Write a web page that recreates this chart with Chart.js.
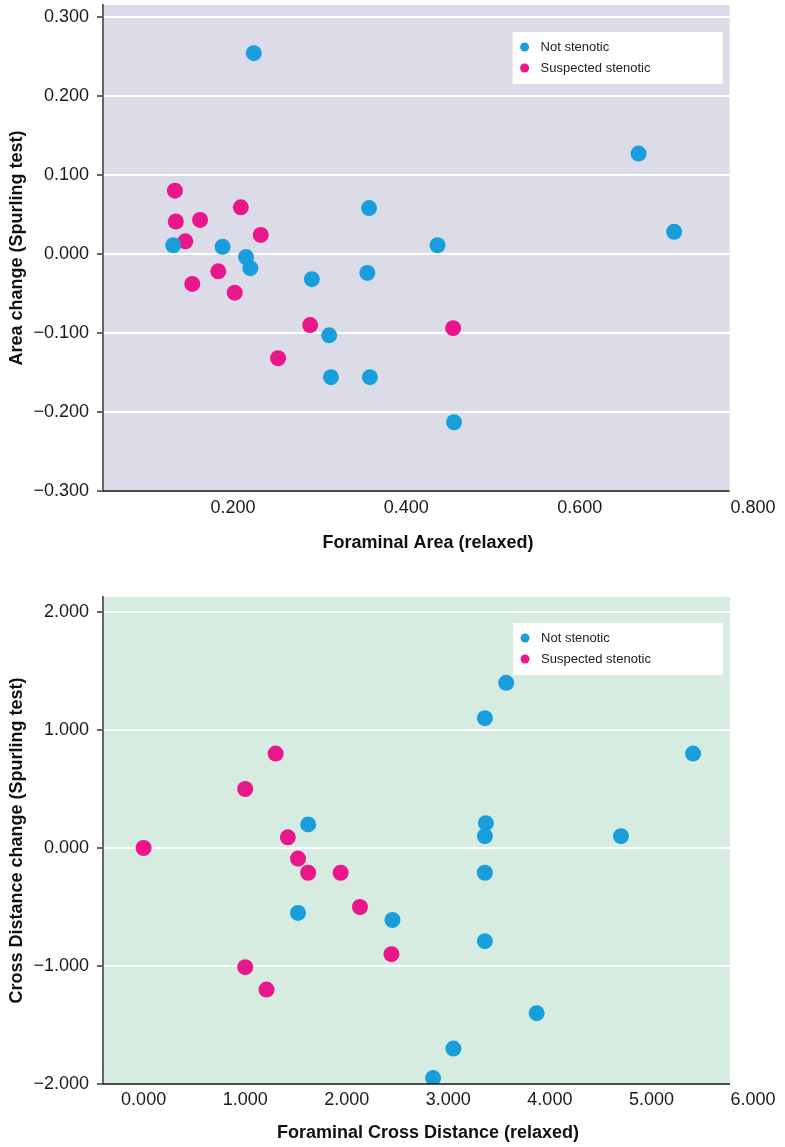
<!DOCTYPE html>
<html>
<head>
<meta charset="utf-8">
<script src="https://cdn.jsdelivr.net/npm/chart.js@4.4.1/dist/chart.umd.min.js"></script>
<style>
  body { margin: 0; background: #fff; }
  .wrap { position: absolute; left: 0; width: 785px; }
  canvas { display: block; }
</style>
</head>
<body>
<div class="wrap" style="top:0;height:565px"><canvas id="areaChart" width="785" height="565"></canvas></div>
<div class="wrap" style="top:565px;height:582px"><canvas id="crossChart" width="785" height="582"></canvas></div>
<script>
// ---- chart 1: foraminal area ----
var areaNotX = [0.224, 0.668, 0.709, 0.357, 0.436, 0.131, 0.188, 0.215, 0.220, 0.291, 0.355, 0.311, 0.313, 0.358, 0.455];
var areaNotY = [0.254, 0.127, 0.028, 0.058, 0.011, 0.011, 0.009, -0.004, -0.018, -0.032, -0.024, -0.103, -0.156, -0.156, -0.213];
var areaSusX = [0.133, 0.134, 0.162, 0.145, 0.209, 0.232, 0.183, 0.153, 0.202, 0.289, 0.252, 0.454];
var areaSusY = [0.080, 0.041, 0.043, 0.016, 0.059, 0.024, -0.022, -0.038, -0.049, -0.090, -0.132, -0.094];
var areaXTicks = [0.2, 0.4, 0.6, 0.8];
var areaYTicks = [-0.3, -0.2, -0.1, 0, 0.1, 0.2, 0.3];

// ---- chart 2: foraminal cross distance ----
var crossNotX = [3.57, 3.36, 5.41, 1.62, 3.37, 3.36, 4.70, 3.36, 1.52, 2.45, 3.36, 3.87, 3.05, 2.85];
var crossNotY = [1.40, 1.10, 0.80, 0.20, 0.21, 0.10, 0.10, -0.21, -0.55, -0.61, -0.79, -1.40, -1.70, -1.95];
var crossSusX = [1.30, 1.00, 1.42, 0.00, 1.52, 1.62, 1.94, 2.13, 2.44, 1.00, 1.21];
var crossSusY = [0.80, 0.50, 0.09, 0.00, -0.09, -0.21, -0.21, -0.50, -0.90, -1.01, -1.20];
var crossXTicks = [0, 1, 2, 3, 4, 5, 6];
var crossYTicks = [-2, -1, 0, 1, 2];

var seriesNames = ['Not stenotic', 'Suspected stenotic'];
var BLUE = '#189fdb';
var PINK = '#ea168b';
var FONT = "'Liberation Sans', Arial, sans-serif";

function fmt(v) {
    var s = Math.abs(v).toFixed(3);
    return v < -1e-9 ? '\u2212' + s : s;
}

function pts(xs, ys) {
    return xs.map(function (x, i) { return { x: x, y: ys[i] }; });
}

// plot background, clipped x axis line and in-plot legend
var framePlugin = {
    id: 'frame',
    beforeDraw: function (chart, args, opts) {
        var a = chart.chartArea, ctx = chart.ctx;
        var right = chart.scales.x.getPixelForValue(opts.xEnd);
        ctx.save();
        ctx.fillStyle = opts.bg;
        ctx.fillRect(a.left, a.top, right - a.left, a.bottom - a.top);
        ctx.restore();
    },
    afterDraw: function (chart, args, opts) {
        var a = chart.chartArea, ctx = chart.ctx;
        var right = chart.scales.x.getPixelForValue(opts.xEnd);
        ctx.save();
        ctx.strokeStyle = '#111';
        ctx.lineWidth = 1.5;
        ctx.beginPath();
        ctx.moveTo(a.left, a.bottom);
        ctx.lineTo(right, a.bottom);
        ctx.stroke();

        // legend box
        var bx = right - 217, by = a.top + opts.legendTop, bw = 210, bh = 52;
        ctx.fillStyle = '#ffffff';
        ctx.fillRect(bx, by, bw, bh);
        ctx.font = '13px ' + FONT;
        ctx.textBaseline = 'middle';
        chart.data.datasets.forEach(function (ds, i) {
            var cy = by + 15 + i * 21;
            ctx.fillStyle = ds.backgroundColor;
            ctx.beginPath();
            ctx.arc(bx + 12, cy, 4.5, 0, Math.PI * 2);
            ctx.fill();
            ctx.fillStyle = '#222';
            ctx.fillText(ds.label, bx + 28, cy);
        });
        ctx.restore();
    }
};

function makeChart(id, cfg) {
    var ctx = document.getElementById(id).getContext('2d');
    return new Chart(ctx, {
        type: 'scatter',
        data: {
            datasets: [{
                label: seriesNames[0],
                data: cfg.notPts,
                backgroundColor: BLUE,
                borderWidth: 0,
                pointRadius: 8,
                pointHoverRadius: 8
            }, {
                label: seriesNames[1],
                data: cfg.susPts,
                backgroundColor: PINK,
                borderWidth: 0,
                pointRadius: 8,
                pointHoverRadius: 8
            }]
        },
        options: {
            responsive: false,
            animation: false,
            layout: {
                autoPadding: false,
                padding: { left: 0, right: 32, top: cfg.padTop, bottom: 0 }
            },
            plugins: {
                legend: { display: false },
                tooltip: { enabled: false },
                frame: { bg: cfg.bg, xEnd: cfg.xEnd, legendTop: cfg.legendTop }
            },
            scales: {
                x: {
                    type: 'linear',
                    min: cfg.xMin,
                    max: cfg.xMax,
                    afterBuildTicks: function (scale) {
                        scale.ticks = cfg.xTicks.map(function (v) { return { value: v }; });
                    },
                    afterFit: function (scale) { scale.height = cfg.xAxisH; },
                    grid: { display: false },
                    border: { display: false },
                    ticks: {
                        padding: cfg.xTickPad,
                        color: '#1a1a1a',
                        font: { family: FONT, size: 18 },
                        maxRotation: 0,
                        callback: function (v) { return fmt(v); }
                    },
                    title: {
                        display: true,
                        text: cfg.xTitle,
                        color: '#111',
                        font: { family: FONT, size: 18, weight: 'bold' },
                        padding: { top: 0, bottom: cfg.xTitlePad }
                    }
                },
                y: {
                    type: 'linear',
                    min: cfg.yMin,
                    max: cfg.yMax,
                    afterBuildTicks: function (scale) {
                        scale.ticks = cfg.yTicks.map(function (v) { return { value: v }; });
                    },
                    afterFit: function (scale) {
                        scale.width = 103;
                        scale.paddingTop = 0;
                        scale.paddingBottom = 0;
                    },
                    grid: {
                        color: '#ffffff',
                        lineWidth: 2,
                        tickColor: '#333',
                        tickLength: 6,
                        tickWidth: 1.5
                    },
                    border: { display: true, color: '#666', width: 2 },
                    ticks: {
                        padding: 8,
                        color: '#1a1a1a',
                        font: { family: FONT, size: 18 },
                        callback: function (v) { return fmt(v); }
                    },
                    title: {
                        display: true,
                        text: cfg.yTitle,
                        color: '#111',
                        font: { family: FONT, size: 18, weight: 'bold' },
                        padding: { top: 6, bottom: 0 }
                    }
                }
            }
        },
        plugins: [framePlugin]
    });
}

makeChart('areaChart', {
    notPts: pts(areaNotX, areaNotY),
    susPts: pts(areaSusX, areaSusY),
    xMin: 0.05, xMax: 0.8, xEnd: 0.773,
    yMin: -0.3, yMax: 0.315,
    xTicks: areaXTicks, yTicks: areaYTicks,
    xTitle: 'Foraminal Area (relaxed)',
    yTitle: 'Area change (Spurling test)',
    bg: '#dcdbe8',
    padTop: 5, xAxisH: 74, xTitlePad: 11, xTickPad: -2, legendTop: 27
});

makeChart('crossChart', {
    notPts: pts(crossNotX, crossNotY),
    susPts: pts(crossSusX, crossSusY),
    xMin: -0.4, xMax: 6, xEnd: 5.774,
    yMin: -2, yMax: 2.127,
    xTicks: crossXTicks, yTicks: crossYTicks,
    xTitle: 'Foraminal Cross Distance (relaxed)',
    yTitle: 'Cross Distance change (Spurling test)',
    bg: '#d7ece1',
    padTop: 32, xAxisH: 63, xTitlePad: 3, xTickPad: -3, legendTop: 26
});
</script>
</body>
</html>
